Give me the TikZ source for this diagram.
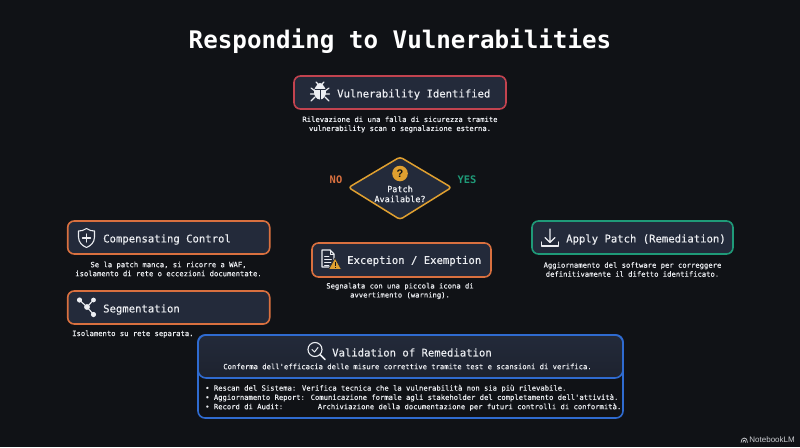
\documentclass[tikz,border=0pt]{standalone}
\usepackage{fontspec}
\setmonofont{DejaVu Sans Mono}
\setsansfont{Liberation Sans}
\newfontfamily\headf[RawFeature={embolden=0.35}]{DejaVu Sans Mono}
\newfontfamily\smallf[RawFeature={embolden=0.2}]{DejaVu Sans Mono}
\definecolor{bgc}{HTML}{101216}
\definecolor{boxc}{HTML}{232A3A}
\definecolor{txt}{HTML}{ECEEF2}
\definecolor{redc}{HTML}{C2434F}
\definecolor{orangec}{HTML}{D9703F}
\definecolor{greenc}{HTML}{1F9A78}
\definecolor{amberc}{HTML}{E0A030}
\definecolor{bluec}{HTML}{2F6BD0}
\tikzset{
  card/.style={draw=#1,line width=1.6pt,rounded corners=6.5pt,fill=boxc,inner sep=0pt},
  head/.style={text=txt,font=\headf\fontsize{10.6}{13}\selectfont,inner sep=0pt,anchor=west},
  small/.style={text=txt,font=\smallf\fontsize{7.2}{9}\selectfont,inner sep=0pt,align=center},
  bullet/.style={text=txt,font=\smallf\fontsize{7.2}{9}\selectfont,inner sep=0pt,anchor=west},
  icon/.style={draw=txt,line width=1.1pt,line cap=round,line join=round,fill=none},
  iconf/.style={fill=txt,draw=none},
}
\begin{document}
\begin{tikzpicture}[x=1pt,y=-1pt]
\useasboundingbox (0,0) rectangle (800,447);
\fill[bgc] (0,0) rectangle (800,447);
\node (title) at (400,41) [text=white,font=\ttfamily\bfseries\fontsize{24.2}{28}\selectfont,inner sep=0pt] {Responding to Vulnerabilities};

% Vulnerability Identified
\node[card=redc,minimum width=212pt,minimum height=33pt] (vuln) at (400,92.5) {};
\node[head] (vulnT) at (337,94.5) {Vulnerability Identified};
\node[small] (vulnD) at (400,124.5) {Rilevazione di una falla di sicurezza tramite\\vulnerability scan o segnalazione esterna.};
% bug icon
\begin{scope}[shift={(320,93)}]
  \fill[txt] (0,-1) ellipse (6 and 7.5);
  \fill[txt] (0,-7) ellipse (3.6 and 3);
  \draw[boxc,line width=.8pt] (0,-4)--(0,6.5);
  \draw[boxc,line width=.8pt] (-5.5,-4)--(5.5,-4);
  \draw[icon,line width=1.2pt] (-5,-2)--(-9,-5) (5,-2)--(9,-5) (-5,1)--(-9.5,1) (5,1)--(9.5,1) (-5,4)--(-9,8) (5,4)--(9,8) (-2,-9)--(-4,-11) (2,-9)--(4,-11);
\end{scope}

% Decision
\node[text=orangec,font=\ttfamily\bfseries\fontsize{10.4}{12}\selectfont,inner sep=0pt] (no) at (336,180) {NO};
\node[text=greenc,font=\ttfamily\bfseries\fontsize{10.4}{12}\selectfont,inner sep=0pt] (yes) at (467,180) {YES};
\path[draw=amberc,line width=1.5pt,fill=boxc,line join=round,rounded corners=3pt] (400,157)--(451.5,187.5)--(400,219.5)--(348.5,187.5)--cycle;
\coordinate (dia) at (400,188);
\fill[amberc] (400,173.5) circle (7.8);
\node[text=bgc,font=\sffamily\bfseries\fontsize{11}{12}\selectfont,inner sep=0pt] (q) at (400,173.5) {?};
\node[small,font=\headf\fontsize{8.5}{10}\selectfont] (patch) at (400,194) {Patch\\Available?};

% Compensating Control
\node[card=orangec,minimum width=202pt,minimum height=33pt] (comp) at (168.7,237.5) {};
\node[head] (compT) at (103,239.5) {Compensating Control};
\node[small] (compD) at (168.5,269) {Se la patch manca, si ricorre a WAF,\\isolamento di rete o eccezioni documentate.};
\begin{scope}[shift={(86.5,238)}]
  \draw[icon] (0,-9.5) .. controls (3,-7.5) and (5,-7) .. (8,-7) -- (8,-1) .. controls (8,4.5) and (4,8) .. (0,9.5) .. controls (-4,8) and (-8,4.5) .. (-8,-1) -- (-8,-7) .. controls (-5,-7) and (-3,-7.5) .. (0,-9.5) -- cycle;
  \draw[icon] (-4,0)--(4,0) (0,-4)--(0,4);
\end{scope}

% Segmentation
\node[card=orangec,minimum width=202pt,minimum height=33pt] (seg) at (168.7,307.5) {};
\node[head] (segT) at (103,309.5) {Segmentation};
\node[small,anchor=west] (segD) at (72,334) {Isolamento su rete separata.};
\draw[icon] (79.5,300)--(87,307)--(93.5,300) (87,307)--(93.5,314.5);
\fill[txt] (79.5,300) circle (2.6) (93.5,300) circle (2.4) (87,307) circle (2.9) (93.5,314.5) circle (2.6);

% Exception
\node[card=orangec,minimum width=179pt,minimum height=34pt] (exc) at (401.5,260) {};
\node[head] (excT) at (347,261) {Exception / Exemption};
\node[small] (excD) at (400,291) {Segnalata con una piccola icona di\\avvertimento (warning).};
\begin{scope}[shift={(328,259)}]
  \draw[icon] (-6,-9) -- (2,-9) -- (6,-5) -- (6,8) -- (-6,8) -- cycle;
  \draw[icon,line width=.8pt] (2,-9)--(2,-5)--(6,-5);
  \draw[icon,line width=.9pt] (-3.5,-3)--(1,-3) (-3.5,0)--(3.5,0) (-3.5,3)--(3,3) (-3.5,6)--(1,6);
  \path[fill=amberc,draw=boxc,line width=.7pt,line join=round] (7,-1)--(13.5,10.5)--(.5,10.5)--cycle;
  \draw[bgc,line width=1pt] (7,3)--(7,7) (7,8.4)--(7,9.2);
\end{scope}

% Apply Patch
\node[card=greenc,minimum width=201pt,minimum height=33pt] (apply) at (632.5,237.5) {};
\node[head] (applyT) at (566,239.5) {Apply Patch (Remediation)};
\node[small] (applyD) at (632.5,269.5) {Aggiornamento del software per correggere\\definitivamente il difetto identificato.};
\begin{scope}[shift={(550,237)}]
  \draw[icon] (0,-8)--(0,5) (-5,0.5)--(0,5.5)--(5,0.5);
  \draw[icon] (-8.5,5)--(-8.5,9)--(8.5,9)--(8.5,5);
\end{scope}

% Validation
\node[draw=bluec,line width=1.6pt,rounded corners=7pt,fill=bgc,minimum width=425pt,minimum height=83pt,inner sep=0pt] (val) at (410.5,376.5) {};
\node[draw=bluec,line width=1.6pt,rounded corners=8pt,top color=boxc,bottom color=boxc!70!bgc,minimum width=425pt,minimum height=43pt,inner sep=0pt] (valH) at (410.5,356.5) {};
\node[head] (valT) at (332,352.5) {Validation of Remediation};
\node[small] (valD) at (407.5,366.5) {Conferma dell'efficacia delle misure correttive tramite test e scansioni di verifica.};
\begin{scope}[shift={(316,350.5)}]
  \draw[icon] (-1,-1) circle (7);
  \draw[icon,line width=1pt] (-4,-1)--(-1.5,1.5)--(2,-3);
  \draw[icon,line width=1.5pt] (4,4)--(9,9);
\end{scope}
\node[bullet] (b1) at (205,388.5) {• Rescan del Sistema: Verifica tecnica che la vulnerabilità non sia più rilevabile.};
\node[bullet] (b2) at (205,397.8) {• Aggiornamento Report: Comunicazione formale agli stakeholder del completamento dell'attività.};
\node[bullet] (b3) at (205,407.1) {• Record di Audit:\hspace{34.6pt}Archiviazione della documentazione per futuri controlli di conformità.};

% Watermark
\node[text=txt!85!bgc,font=\sffamily\fontsize{8}{10}\selectfont,inner sep=0pt,anchor=east] (nb) at (795,440) {NotebookLM};
\draw[txt!85!bgc,line width=.7pt] (741,442.5) .. controls (741,436.5) and (747.5,436.5) .. (747.5,442.5) (743,442.5) .. controls (743,439.5) and (745.5,439.5) .. (745.5,442.5);
\end{tikzpicture}
\end{document}
